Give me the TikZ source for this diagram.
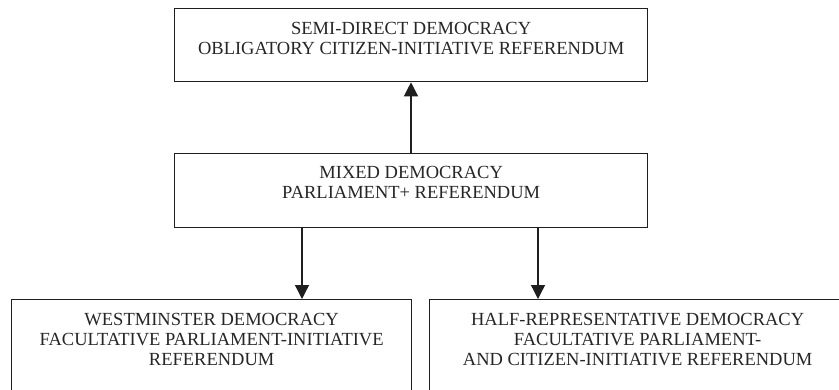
\documentclass[tikz,border=0pt]{standalone}
\usepackage{fontspec}
\setmainfont{Liberation Serif}
\usetikzlibrary{arrows.meta}
\begin{document}
\begin{tikzpicture}[x=1bp,y=-1bp,
  box/.style={draw=black!88,line width=1.3bp,inner sep=0pt,anchor=north west},
  lbl/.style={anchor=north,align=center,inner sep=0pt,text=black!85,
    font=\fontsize{18.5bp}{20bp}\selectfont},
  arr/.style={draw=black!88,line width=1.3bp,-{Triangle[length=14bp,width=14bp]}}]
\useasboundingbox (0,0) rectangle (839,389);
\clip (0,0) rectangle (839,389);
\node[box,minimum width=473bp,minimum height=73bp] (top) at (174,8) {};
\node[box,minimum width=473bp,minimum height=74bp] (mid) at (174,153) {};
\node[box,minimum width=400bp,minimum height=110bp] (bl) at (11,299) {};
\node[box,minimum width=416bp,minimum height=110bp] (br) at (429,299) {};
\node[lbl] (ttop) at ([yshift=-14bp]top.north) {SEMI-DIRECT DEMOCRACY\\OBLIGATORY CITIZEN-INITIATIVE REFERENDUM};
\node[lbl] (tmid) at ([yshift=-13bp]mid.north) {MIXED DEMOCRACY\\PARLIAMENT+ REFERENDUM};
\node[lbl] (tbl) at ([yshift=-14bp]bl.north) {WESTMINSTER DEMOCRACY\\FACULTATIVE PARLIAMENT-INITIATIVE\\REFERENDUM};
\node[lbl] (tbr) at ([yshift=-14bp]br.north) {HALF-REPRESENTATIVE DEMOCRACY\\FACULTATIVE PARLIAMENT-\\AND CITIZEN-INITIATIVE REFERENDUM};
\coordinate (cu) at (411,0);
\coordinate (cl) at (302,0);
\coordinate (cr) at (538,0);
\draw[arr] (mid.north -| cu) -- (top.south -| cu);
\draw[arr] (mid.south -| cl) -- (bl.north -| cl);
\draw[arr] (mid.south -| cr) -- (br.north -| cr);
\end{tikzpicture}
\end{document}
